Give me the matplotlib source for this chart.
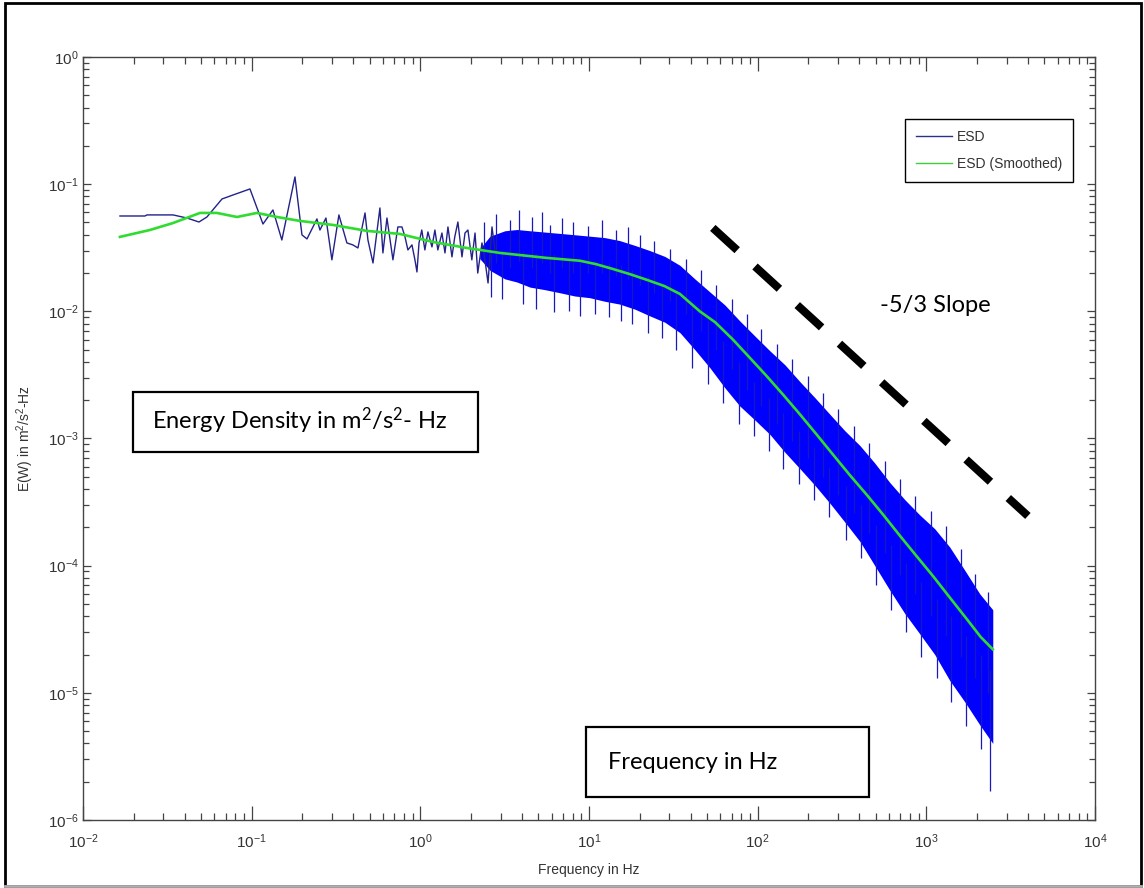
import numpy as np
import matplotlib
matplotlib.use("Agg")
import matplotlib.pyplot as plt
from matplotlib.patches import Rectangle
from matplotlib.lines import Line2D
from matplotlib.ticker import FixedLocator, FuncFormatter, NullFormatter

# --- data ---
# low-frequency part of the ESD (separate bins, Hz / m^2/s^2-Hz)
esd_f = [0.01656, 0.0233, 0.02396, 0.0342, 0.0413, 0.0487, 0.0543, 0.0667, 0.0775, 0.0977,
         0.1167, 0.1337, 0.151, 0.1806, 0.1987, 0.2128, 0.2438, 0.254, 0.2757, 0.299,
         0.329, 0.367, 0.398, 0.4266, 0.47, 0.489, 0.524, 0.576, 0.60, 0.634,
         0.688, 0.736, 0.778, 0.811, 0.844, 0.892, 0.929, 0.955, 0.982, 1.02,
         1.064, 1.109, 1.172, 1.22, 1.27, 1.343, 1.40, 1.458, 1.54, 1.60,
         1.67, 1.766, 1.84, 1.915, 2.02, 2.11, 2.19, 2.32, 2.415, 2.52,
         2.66, 2.77, 2.88]
esd_e = [0.0562, 0.0562, 0.0573, 0.0573, 0.0542, 0.0504, 0.0552, 0.0765, 0.0822, 0.0917,
         0.0486, 0.0627, 0.0364, 0.114, 0.0399, 0.0371, 0.0533, 0.0436, 0.0542, 0.0254,
         0.0573, 0.0345, 0.0333, 0.0315, 0.0594, 0.0364, 0.024, 0.065, 0.0288, 0.0542,
         0.0254, 0.0461, 0.0461, 0.0385, 0.0304, 0.0333, 0.0254, 0.0204, 0.0345, 0.0436,
         0.0304, 0.0421, 0.0321, 0.0436, 0.0304, 0.0413, 0.0288, 0.0461, 0.0268, 0.0385,
         0.0504, 0.0268, 0.0413, 0.0436, 0.0254, 0.0413, 0.02, 0.0345, 0.0254, 0.0167,
         0.0461, 0.0304, 0.0288]

# dense part of the ESD: solid core of the blue band
band_f = [2.25, 2.59, 3.17, 3.74, 4.47, 5.48, 6.72, 8.24, 10.1, 12.4,
          15.2, 18.7, 23.0, 28.2, 34.6, 42.4, 52.1, 64.0, 78.4, 96.2,
          118, 145, 178, 218, 268, 329, 404, 495, 608, 746,
          916, 1122, 1377, 1690, 2075, 2477]
band_hi = [0.031, 0.039, 0.043, 0.044, 0.043, 0.042, 0.041, 0.040, 0.039, 0.038,
           0.036, 0.033, 0.030, 0.027, 0.023, 0.018, 0.0142, 0.0112, 0.0084, 0.0064,
           0.0049, 0.0038, 0.0028, 0.0021, 0.00155, 0.00115, 0.00088, 0.00064, 0.00045, 0.00033,
           0.00025, 0.000195, 0.000140, 9.2e-5, 6.0e-5, 4.5e-5]
band_lo = [0.026, 0.021, 0.018, 0.017, 0.0155, 0.0148, 0.0140, 0.0132, 0.0128, 0.0120,
           0.0114, 0.0104, 0.0092, 0.0082, 0.0068, 0.0050, 0.0036, 0.0025, 0.0018, 0.00140,
           0.00108, 0.00078, 0.00058, 0.00043, 0.00031, 0.00022, 0.000155, 0.000100, 6.4e-5, 4.2e-5,
           2.9e-5, 2.0e-5, 1.25e-5, 8.5e-6, 5.6e-6, 4.0e-6]

# single spikes sticking out of the band (frequency, top, bottom)
spike_f = [2.4, 2.62, 2.8, 3.05, 3.4, 3.85, 4.05, 4.6, 4.85, 5.3,
           5.9, 6.2, 6.9, 7.6, 8.0, 8.9, 9.8, 10.8, 11.9, 13.1,
           14.5, 15.4, 17.0, 18.1, 20.0, 22.3, 24.4, 27.0, 30.1, 33.0,
           37.5, 41.0, 46.0, 50.5, 57.0, 62.5, 70.0, 77.0, 86.0, 95.0,
           105, 116, 130, 141, 160, 176, 198, 215, 245, 265,
           300, 332, 375, 410, 460, 505, 570, 620, 700, 760,
           860, 935, 1060, 1150, 1300, 1400, 1600, 1720, 1950, 2100,
           2330, 2380]
spike_hi = [0.050, 0.030, 0.058, 0.030, 0.052, 0.063, 0.030, 0.055, 0.028, 0.060,
            0.048, 0.028, 0.054, 0.026, 0.050, 0.025, 0.047, 0.025, 0.052, 0.024,
            0.044, 0.023, 0.046, 0.021, 0.040, 0.019, 0.036, 0.016, 0.031, 0.014,
            0.026, 0.011, 0.021, 0.0085, 0.016, 0.0058, 0.0125, 0.0040, 0.0095, 0.0028,
            0.0072, 0.0021, 0.0055, 0.0016, 0.0042, 0.00115, 0.0031, 0.00085, 0.0023, 0.00060,
            0.0017, 0.00042, 0.00125, 0.00030, 0.00093, 0.00021, 0.00066, 0.000145, 0.00048, 0.000105,
            0.00035, 7.5e-5, 0.00027, 5.5e-5, 0.000205, 4.0e-5, 0.000135, 2.8e-5, 8.6e-5, 2.0e-5,
            6.2e-5, 1.5e-5]
spike_lo = [0.025, 0.013, 0.024, 0.0125, 0.022, 0.025, 0.0115, 0.022, 0.0105, 0.024,
            0.020, 0.0098, 0.022, 0.0100, 0.020, 0.0092, 0.020, 0.0095, 0.020, 0.0090,
            0.019, 0.0084, 0.018, 0.0080, 0.016, 0.0068, 0.014, 0.0062, 0.012, 0.0050,
            0.0095, 0.0036, 0.0070, 0.0027, 0.0050, 0.0019, 0.0035, 0.0013, 0.0024, 0.00105,
            0.0018, 0.00080, 0.0013, 0.00058, 0.00095, 0.00044, 0.00070, 0.00033, 0.00050, 0.00024,
            0.00036, 0.00016, 0.00026, 0.000115, 0.00018, 7.0e-5, 0.000125, 4.5e-5, 8.5e-5, 3.0e-5,
            6.0e-5, 1.9e-5, 4.0e-5, 1.3e-5, 2.8e-5, 8.5e-6, 1.9e-5, 5.5e-6, 1.3e-5, 3.6e-6,
            1.0e-5, 1.7e-6]

# smoothed ESD
smooth_f = [0.01656, 0.0249, 0.0342, 0.0494, 0.0622, 0.0818, 0.1075, 0.1413, 0.1933, 0.3034,
            0.482, 0.757, 1.19, 1.89, 2.96, 5.63, 8.83, 11.0, 13.9, 17.5,
            22.0, 28.0, 34.6, 45.4, 56.0, 71.3, 90.0, 113, 142, 178,
            223, 279, 350, 444, 557, 697, 870, 1094, 1380, 1738,
            2100, 2477]
smooth_e = [0.0385, 0.0436, 0.0495, 0.0594, 0.0594, 0.0552, 0.0594, 0.0552, 0.0514, 0.0478,
            0.0429, 0.0406, 0.0351, 0.0315, 0.0288, 0.0263, 0.0250, 0.0235, 0.0215, 0.0196,
            0.0177, 0.0158, 0.0137, 0.0100, 0.0082, 0.0060, 0.0043, 0.0031, 0.0022, 0.00155,
            0.00108, 0.00075, 0.00052, 0.00036, 0.00025, 0.000172, 0.000120, 8.3e-5, 5.6e-5, 3.8e-5,
            2.75e-5, 2.2e-5]

# the hand-drawn "-5/3" reference line
slope_f = [54.2, 4000]
slope_e = [0.0453, 2.46e-4]

decades = [1e-2, 1e-1, 1e0, 1e1, 1e2, 1e3, 1e4]
e_decades = [1e-6, 1e-5, 1e-4, 1e-3, 1e-2, 1e-1, 1e0]

tickfont = "Liberation Sans"
boxfont = "Lato"

W, H = 1144, 888
fig = plt.figure(figsize=(W / 100, H / 100), dpi=100)
ax = fig.add_axes([83 / W, 1 - 820 / H, 1012 / W, 763 / H])

ax.fill_between(band_f, band_lo, band_hi, color="#0000ff", lw=0)
ax.vlines(spike_f, spike_lo, spike_hi, color="#1818c0", lw=0.9)
ax.plot(esd_f, esd_e, color="#22228a", lw=1.0)
ax.plot(smooth_f, smooth_e, color="#2fdc2f", lw=1.9)
ax.plot(slope_f, slope_e, color="black", lw=5.8, dashes=(4.1, 3.0), dash_capstyle="butt")

ax.set_xscale("log")
ax.set_yscale("log")
ax.set_xlim(1e-2, 1e4)
ax.set_ylim(1e-6, 1e0)

fmt = FuncFormatter(lambda v, p: r"$\mathregular{10^{%d}}$" % round(np.log10(v)))
ax.xaxis.set_major_locator(FixedLocator(decades))
ax.yaxis.set_major_locator(FixedLocator(e_decades))
ax.xaxis.set_minor_locator(FixedLocator([m * d for d in decades[:-1] for m in range(2, 10)]))
ax.yaxis.set_minor_locator(FixedLocator([m * d for d in e_decades[:-1] for m in range(2, 10)]))
for axis in (ax.xaxis, ax.yaxis):
    axis.set_major_formatter(fmt)
    axis.set_minor_formatter(NullFormatter())

ax.tick_params(which="both", direction="in", top=True, right=True, color="#444444",
               width=0.9, labelcolor="#333333", labelsize=11)
ax.tick_params(axis="x", which="major", length=10, pad=9)
ax.tick_params(axis="x", which="minor", length=5)
ax.tick_params(axis="y", which="major", length=6, pad=3)
ax.tick_params(axis="y", which="minor", length=4)
for lab in ax.get_xticklabels() + ax.get_yticklabels():
    lab.set_fontfamily(tickfont)
for s in ax.spines.values():
    s.set_color("#444444")
    s.set_linewidth(1.0)

ax.set_xlabel("Frequency in Hz", fontfamily=tickfont, fontsize=10, color="#333333")
ax.set_ylabel(r"E(W) in m$\mathregular{^2}$/s$\mathregular{^2}$-Hz", fontfamily=tickfont,
              fontsize=10, color="#333333")
ax.xaxis.set_label_coords(0.5, -0.057)
ax.yaxis.set_label_coords(-0.046, 0.5)

handles = [Line2D([], [], color="#2a3388", lw=1.0), Line2D([], [], color="#3ccf3c", lw=1.0)]
leg = ax.legend(handles, ["ESD", "ESD (Smoothed)"], loc="upper right",
                bbox_to_anchor=(1073 / W, 1 - 119 / H), bbox_transform=fig.transFigure,
                prop={"family": tickfont, "size": 10}, fancybox=False, edgecolor="black",
                framealpha=1, borderpad=0.8, handlelength=2.6, handletextpad=0.3,
                labelspacing=0.9, borderaxespad=0)
leg.get_frame().set_linewidth(1.0)
for t in leg.get_texts():
    t.set_color("#333333")


# text boxes pasted over the figure
def fig_box(x0, y0, x1, y1):
    fig.add_artist(Rectangle((x0 / W, 1 - y1 / H), (x1 - x0) / W, (y1 - y0) / H,
                             transform=fig.transFigure, fill=True, fc="white",
                             ec="black", lw=1.6, zorder=5))


fig_box(133, 392, 478, 452)
fig.text(152 / W, 1 - 421 / H,
         r"Energy Density in m$\mathregular{^2}$/s$\mathregular{^2}$- Hz",
         family=boxfont, fontsize=17, va="center", ha="left", zorder=6)
fig_box(586, 727, 869, 797)
fig.text(608 / W, 1 - 762 / H, "Frequency in Hz", family=boxfont, fontsize=17,
         va="center", ha="left", zorder=6)
fig.text(880 / W, 1 - 306 / H, "-5/3 Slope", family=boxfont, fontsize=17,
         va="center", ha="left", zorder=6)

# figure border
fig.add_artist(Rectangle((5 / W, 1 - 886 / H), 1136 / W, 883 / H, transform=fig.transFigure,
                         fill=False, ec="black", lw=2))
fig.add_artist(Line2D([5 / W, 1141 / W], [1 - 886 / H] * 2, transform=fig.transFigure,
                      color="#b0b0b0", lw=2))

fig.savefig("out.png", dpi=100)
